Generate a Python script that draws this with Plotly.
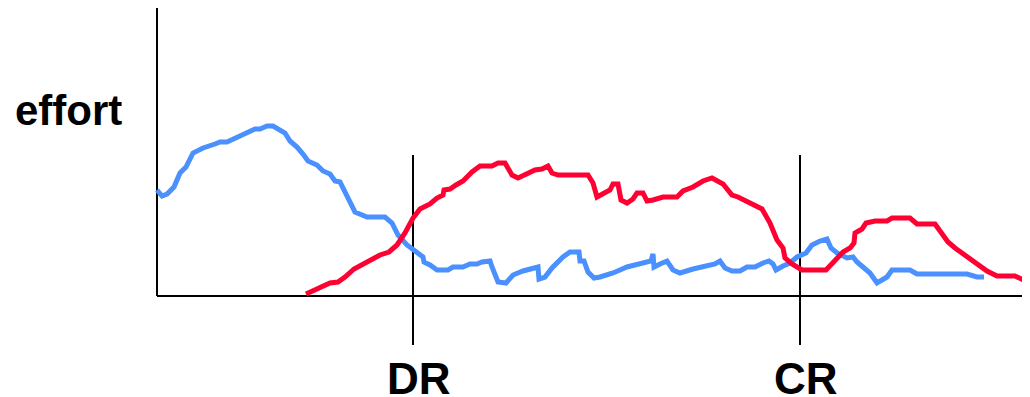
import plotly.graph_objects as go

# Blue series (effort before transition), time vs effort
blue_t = [0.0, 0.5, 1.0, 1.7, 2.3, 2.9, 3.6, 4.6, 5.8, 6.3, 7.0, 8.0, 9.0, 9.8, 10.3, 11.0, 11.6, 12.1, 12.8, 13.3,
          14.0, 14.6, 15.1, 16.0, 16.6, 17.3, 17.8, 18.3, 19.0, 19.8, 21.0, 22.8, 23.5, 24.1, 25.0, 26.0, 26.6, 26.7,
          27.3, 28.0, 29.1, 29.6, 30.6, 31.3, 32.0, 32.5, 33.3, 33.5, 34.1, 34.9, 35.6, 36.6, 37.5, 38.1, 38.2, 38.8,
          39.5, 40.6, 41.3, 42.2, 42.3, 42.7, 43.1, 43.7, 44.3, 45.6, 47.0, 48.3, 49.4, 49.6, 49.7, 50.3, 51.0, 51.6,
          52.3, 53.6, 55.0, 55.8, 56.3, 56.8, 57.5, 58.3, 59.0, 59.8, 60.6, 61.2, 61.6, 61.9, 62.6, 63.3, 64.0, 64.9,
          65.5, 66.3, 67.0, 67.4, 68.0, 69.0, 69.6, 70.0, 70.6, 71.3, 72.0, 73.0, 73.5, 75.3, 76.0, 81.0, 82.0, 82.7]
blue_e = [10.6, 10.0, 10.2, 10.9, 12.3, 12.9, 14.3, 14.8, 15.2, 15.4, 15.4, 15.9, 16.4, 16.7, 16.7, 17.0, 17.0, 16.7,
          16.3, 15.5, 14.9, 14.2, 13.5, 13.1, 12.5, 12.2, 11.5, 11.4, 10.1, 8.4, 7.9, 7.9, 7.3, 6.1, 5.1, 4.4, 3.9, 3.4,
          3.1, 2.6, 2.6, 2.9, 2.9, 3.2, 3.2, 3.4, 3.5, 2.9, 1.4, 1.3, 2.1, 2.5, 2.8, 2.9, 1.7, 1.9, 2.8, 3.9, 4.4, 4.4,
          3.5, 3.5, 2.4, 1.8, 1.9, 2.3, 2.9, 3.2, 3.5, 4.2, 2.9, 3.2, 3.5, 2.6, 2.3, 2.7, 3.1, 3.2, 3.5, 2.8, 2.5, 2.5,
          2.9, 2.9, 3.3, 3.5, 3.2, 2.6, 3.0, 3.3, 3.9, 4.3, 5.1, 5.5, 5.7, 4.8, 4.3, 3.8, 3.9, 3.4, 2.9, 2.3, 1.3, 1.9,
          2.6, 2.6, 2.2, 2.2, 1.9, 1.9]

# Red series
red_t = [14.9, 16.0, 17.3, 18.1, 18.8, 19.7, 20.6, 21.5, 22.3, 23.2, 24.0, 24.8, 25.6, 26.3, 27.3, 28.0, 28.6, 28.7,
         29.3, 29.9, 30.6, 31.5, 32.3, 33.5, 34.1, 34.8, 35.5, 36.1, 37.0, 37.8, 38.5, 39.1, 39.5, 40.1, 43.1, 43.6,
         44.0, 44.6, 45.3, 45.6, 46.1, 46.4, 47.0, 47.6, 48.0, 48.6, 49.0, 49.6, 50.6, 52.0, 52.6, 53.6, 54.6, 55.5,
         56.6, 57.5, 58.1, 59.3, 60.5, 61.3, 62.0, 62.6, 62.8, 63.5, 64.5, 66.9, 67.5, 68.0, 68.6, 69.3, 69.7, 69.8,
         70.5, 70.9, 71.8, 73.0, 73.5, 75.3, 76.0, 77.8, 78.3, 79.1, 79.8, 80.8, 81.3, 82.3, 83.0, 84.0, 85.8, 87.3]
red_e = [0.2, 0.7, 1.3, 1.4, 1.9, 2.7, 3.2, 3.6, 4.1, 4.4, 5.1, 6.3, 7.8, 8.7, 9.2, 9.8, 10.1, 10.6, 10.7, 11.1, 11.5,
         12.4, 13.0, 13.0, 13.3, 13.3, 12.1, 11.8, 12.2, 12.6, 12.7, 13.0, 12.3, 12.1, 12.1, 11.3, 9.9, 10.2, 10.6,
         11.2, 11.2, 9.6, 9.3, 9.7, 10.3, 10.3, 9.5, 9.6, 9.9, 9.9, 10.5, 10.9, 11.5, 11.8, 11.2, 10.1, 9.9, 9.3, 8.7,
         7.3, 5.6, 4.8, 3.8, 3.2, 2.6, 2.6, 3.3, 3.7, 4.4, 4.8, 5.3, 6.3, 6.7, 7.3, 7.5, 7.5, 7.8, 7.8, 7.2, 7.2, 6.5,
         5.4, 4.8, 4.1, 3.7, 3.1, 2.5, 2.0, 2.0, 1.3]

# Markers
marker_labels = ["DR", "CR"]
marker_t = [25.6, 64.3]

AXIS_END_T = 88.0
AXIS_TOP_E = 28.8

fig = go.Figure()
fig.add_trace(go.Scatter(x=blue_t, y=blue_e, mode="lines",
                         line=dict(color="#4a90ff", width=5), hoverinfo="skip", showlegend=False))
fig.add_trace(go.Scatter(x=red_t, y=red_e, mode="lines",
                         line=dict(color="#ff0033", width=5), hoverinfo="skip", showlegend=False))

# axes lines
fig.add_shape(type="line", x0=0, x1=0, y0=0, y1=AXIS_TOP_E, line=dict(color="black", width=2), layer="below")
fig.add_shape(type="line", x0=0, x1=AXIS_END_T, y0=0, y1=0, line=dict(color="black", width=2), layer="below")

for lab, t in zip(marker_labels, marker_t):
    fig.add_shape(type="line", x0=t, x1=t, y0=-4.9, y1=14.1, line=dict(color="black", width=2), layer="below")
    fig.add_annotation(x=t + 0.6, y=-8.2, text="<b>%s</b>" % lab, showarrow=False,
                       font=dict(family="Liberation Sans, Arial", size=44, color="black"),
                       xanchor="center", yanchor="middle")

fig.add_annotation(x=-8.9, y=18.6, text="<b>effort</b>", showarrow=False,
                   font=dict(family="Liberation Sans, Arial", size=42, color="black"),
                   xanchor="center", yanchor="middle")

fig.update_layout(
    width=1022, height=389,
    margin=dict(l=0, r=0, t=0, b=0),
    paper_bgcolor="white", plot_bgcolor="white",
    xaxis=dict(range=[-14.9, 87.3], visible=False, fixedrange=True),
    yaxis=dict(range=[-10.1, 28.8], visible=False, fixedrange=True),
    showlegend=False,
)

fig.write_html("out.html", config={"displayModeBar": False})
